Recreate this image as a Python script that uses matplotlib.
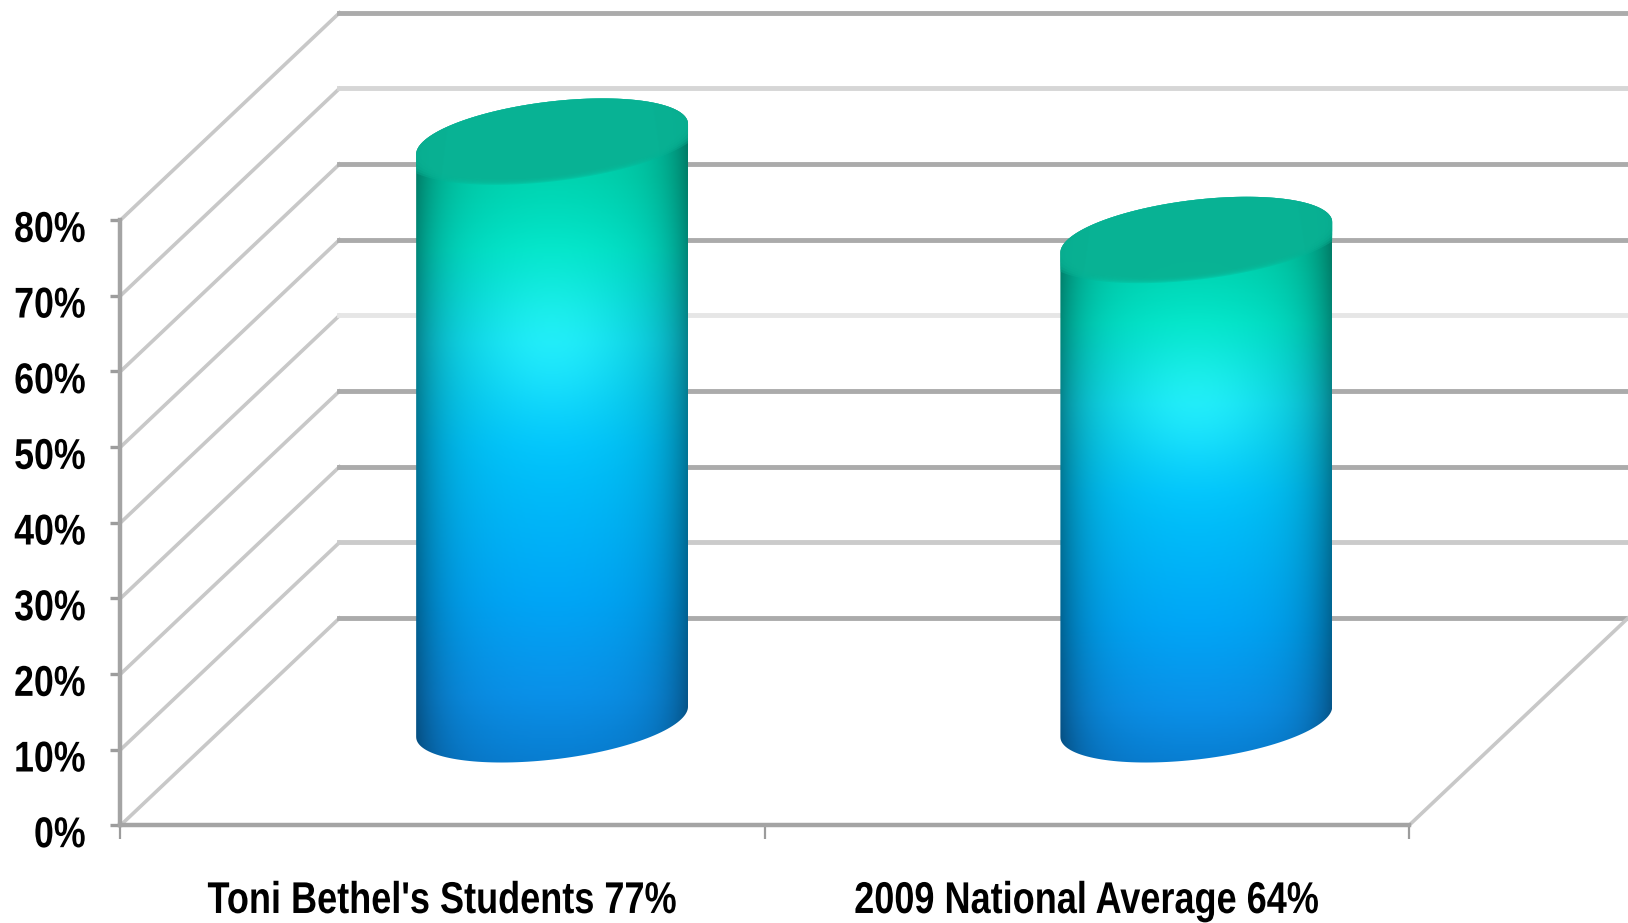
import numpy as np
import matplotlib

matplotlib.use("Agg")
import matplotlib.pyplot as plt  # noqa: E402
from matplotlib.colors import LinearSegmentedColormap  # noqa: E402
from matplotlib.patches import Polygon  # noqa: E402
from matplotlib.patheffects import AbstractPathEffect  # noqa: E402
from matplotlib.transforms import Affine2D, ScaledTranslation  # noqa: E402

categories = ["Toni Bethel's Students 77%", "2009 National Average 64%"]
values = [77, 64]
y_ticks = [0, 10, 20, 30, 40, 50, 60, 70, 80]
y_labels = ["0%", "10%", "20%", "30%", "40%", "50%", "60%", "70%", "80%"]
# some wall lines come out paler in the source picture
wall_colors = ["#ababab", "#cbcbcb", "#ababab", "#ababab", "#e6e6e6",
               "#ababab", "#ababab", "#d6d6d6", "#ababab"]

W, H = 1628, 923
S = W / 1568  # I measured on the 1568 wide preview

# 3d look: how far the back wall sits from the front face, in data units
DEPTH_X = 0.34
DEPTH_Y = 27.4
BAR_A = 0.211   # half width of a cylinder
BAR_B = 5.0     # ellipse half height
BAR_SHEAR = 2.0

body_cmap = LinearSegmentedColormap.from_list("body", [
    (0.0, "#00c4a4"), (0.14, "#00d4b0"), (0.24, "#00e2c8"), (0.375, "#08d8ec"),
    (0.52, "#00c4fa"), (0.74, "#00a6f6"), (0.88, "#0a90e8"), (1.0, "#0878ca"),
])
FONT = "Liberation Sans"


class Condense(AbstractPathEffect):
    """Squeeze glyphs sideways, no narrow bold font is installed here."""

    def __init__(self, sx, anchor):
        super().__init__()
        self.sx = sx
        self.anchor = anchor

    def draw_path(self, renderer, gc, tpath, affine, rgbFace=None):
        ext = tpath.get_extents()
        x0 = ext.x0 + self.anchor * ext.width
        squeeze = Affine2D().translate(-x0, 0).scale(self.sx, 1).translate(x0, 0)
        renderer.draw_path(gc, tpath, squeeze + affine, rgbFace)


fig = plt.figure(figsize=(W / 100, H / 100), dpi=100, facecolor="white")
left, right = 116 * S / W, 1357 * S / W
bottom, top = 1 - 795 * S / H, 1 - 212 * S / H
ax = fig.add_axes([left, bottom, right - left, top - bottom])
ax.patch.set_visible(False)


def ellipse(cx, cy, t, grow=1.0):
    x = cx + BAR_A * grow * np.cos(t)
    y = cy + BAR_B * grow * np.sin(t) + BAR_SHEAR * grow * np.cos(t)
    return np.column_stack([x, y])


# walls and floor
for v, c in zip(y_ticks, wall_colors):
    ax.plot([0, DEPTH_X], [v, v + DEPTH_Y], color="#c8c8c8", lw=2.6, clip_on=False, zorder=1)
    ax.plot([DEPTH_X, 2 + DEPTH_X], [v + DEPTH_Y, v + DEPTH_Y], color=c, lw=3.5, clip_on=False, zorder=1)
ax.plot([2, 2 + DEPTH_X], [0, DEPTH_Y], color="#c8c8c8", lw=2.6, clip_on=False, zorder=1)

# cylinders
for i, val in enumerate(values):
    cx = i + 0.5 + DEPTH_X / 2
    base = DEPTH_Y / 2
    ttop = np.linspace(0, np.pi, 80)
    tbot = np.linspace(np.pi, 2 * np.pi, 80)
    outline = np.vstack([ellipse(cx, base, tbot), ellipse(cx, base + val, ttop)])
    body = Polygon(outline, closed=True, transform=ax.transData, fc="none", ec="none")
    ax.add_patch(body)

    u = np.linspace(-1, 1, 200)
    prof = np.linspace(0, 1, 400)
    rgb = body_cmap(prof)[:, :3]
    shade = 1 - 0.12 * u ** 2 - 0.28 * np.abs(u) ** 6
    img = rgb[:, None, :] * shade[None, :, None]
    # soft cyan glow in the upper part of the body
    glow = np.exp(-((u[None, :] / 0.6) ** 2 + ((prof[:, None] - 0.375) / 0.11) ** 2))
    img = np.clip(img + glow[:, :, None] * np.array([0.1, 0.08, 0.05]), 0, 1)
    ymax = base + val + BAR_B + 3
    ymin = base - BAR_B - 3
    im = ax.imshow(img, extent=[cx - BAR_A, cx + BAR_A, ymin, ymax], origin="upper",
                   aspect="auto", interpolation="bilinear", zorder=3)
    im.set_clip_path(body)
    im.set_clip_box(fig.bbox)

    # top of the cylinder, a few stacked ellipses give it the soft lower edge
    for grow in [1.12, 1.09, 1.06, 1.03, 1.0, 0.97]:
        cap = Polygon(ellipse(cx, base + val, np.linspace(0, 2 * np.pi, 160), grow), closed=True,
                      fc="#0ab294", ec="none", alpha=0.4, zorder=4)
        ax.add_patch(cap)
        cap.set_clip_path(body)
        cap.set_clip_box(fig.bbox)

ax.set_xlim(0, 2)
ax.set_ylim(0, 80)

ax.set_xticks([0, 1, 2])
ax.set_xticklabels([])
ax.set_xticks([0.5, 1.5], minor=True)
ax.set_xticklabels(categories, minor=True, family=FONT, fontweight="bold", fontsize=32, color="black")
ax.tick_params(axis="x", which="major", length=10, width=1.6, color="#9c9c9c")
ax.tick_params(axis="x", which="minor", length=0, pad=40)
ax.set_yticks(y_ticks)
ax.set_yticklabels(y_labels, family=FONT, fontweight="bold", fontsize=31, color="black")
ax.tick_params(axis="y", length=7, width=2.4, color="#9c9c9c", pad=18)
shift = ScaledTranslation(0, -4.5 / 72, fig.dpi_scale_trans)
for lab in ax.get_yticklabels():
    lab.set_transform(lab.get_transform() + shift)
    lab.set_path_effects([Condense(0.83, 1.0)])
for lab in ax.get_xticklabels(minor=True):
    lab.set_path_effects([Condense(0.812, 0.5)])

for name in ["top", "right"]:
    ax.spines[name].set_visible(False)
for name in ["left", "bottom"]:
    ax.spines[name].set_color("#a4a4a4")
    ax.spines[name].set_linewidth(3.2)
    ax.spines[name].set_zorder(2)

fig.savefig("out.png", dpi=100, facecolor="white")
plt.close(fig)
